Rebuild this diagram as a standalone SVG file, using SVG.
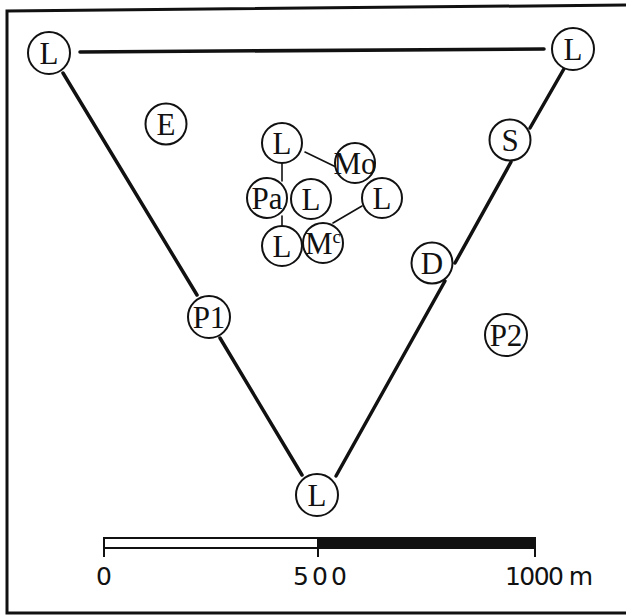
<svg xmlns="http://www.w3.org/2000/svg" width="626" height="616" viewBox="0 0 626 616">
<style>
.n circle{fill:#fff;stroke:#111;stroke-width:2}
.n text{font-family:"Liberation Serif","Times New Roman",serif;font-size:31px;fill:#111;text-anchor:middle}
.c line{stroke:#111;stroke-width:3.5;stroke-linecap:round}
.c line.t{stroke-width:1.6}
.s{font-family:"DejaVu Sans","Liberation Sans",sans-serif;font-size:25px;fill:#111}
</style>
<rect width="626" height="616" fill="#fff"/>
<path d="M626 5 L7 11 L7 613 L626 613" fill="none" stroke="#111" stroke-width="3"/>
<g id="connectors" class="c">
<line x1="80" y1="52" x2="544" y2="49"/>
<line x1="63" y1="73" x2="197" y2="295"/>
<line x1="220" y1="338" x2="302" y2="475"/>
<line x1="565" y1="67" x2="530" y2="128"/>
<line x1="511" y1="162" x2="455" y2="263"/>
<line x1="445" y1="281" x2="336" y2="476"/>
<line class="t" x1="305" y1="152" x2="336" y2="167"/>
<line class="t" x1="282" y1="163" x2="282" y2="181"/>
<line class="t" x1="282" y1="216" x2="282" y2="231"/>
<line class="t" x1="362" y1="206" x2="333" y2="223"/>
</g>
<g id="n-L1" class="n"><circle cx="49" cy="53" r="21"/><text x="49" y="64">L</text></g>
<g id="n-L2" class="n"><circle cx="573" cy="49" r="21"/><text x="573" y="60">L</text></g>
<g id="n-E" class="n"><circle cx="166" cy="124" r="20.5"/><text x="166" y="135">E</text></g>
<g id="n-S" class="n"><circle cx="510" cy="140" r="20.5"/><text x="510" y="151">S</text></g>
<g id="n-D" class="n"><circle cx="432" cy="263" r="20.5"/><text x="432" y="274">D</text></g>
<g id="n-P1" class="n"><circle cx="209" cy="317" r="21"/><text x="209" y="328">P1</text></g>
<g id="n-P2" class="n"><circle cx="506" cy="335" r="21"/><text x="506" y="346">P2</text></g>
<g id="n-Lb" class="n"><circle cx="317" cy="495" r="21"/><text x="317" y="506">L</text></g>
<g id="n-Lc1" class="n"><circle cx="282" cy="143" r="20"/><text x="282" y="154">L</text></g>
<g id="n-Mo" class="n"><circle cx="355" cy="163" r="20"/><text x="355" y="174">Mo</text></g>
<g id="n-Lc2" class="n"><circle cx="382" cy="198" r="20"/><text x="382" y="209">L</text></g>
<g id="n-Pa" class="n"><circle cx="267" cy="198" r="20"/><text x="267" y="209">Pa</text></g>
<g id="n-Lc3" class="n"><circle cx="311" cy="199" r="20"/><text x="311" y="210">L</text></g>
<g id="n-Lc4" class="n"><circle cx="282" cy="246" r="20"/><text x="282" y="257">L</text></g>
<g id="n-Mc" class="n"><circle cx="323" cy="243" r="20"/><text x="323" y="254">M<tspan font-size="19" dy="-11">c</tspan></text></g>
<g id="scale">
<rect x="104" y="538" width="214" height="10" fill="#fff" stroke="#111" stroke-width="2"/>
<rect x="318" y="538" width="217" height="10" fill="#111" stroke="#111" stroke-width="2"/>
<g stroke="#111" stroke-width="2"><line x1="104" y1="538" x2="104" y2="557"/><line x1="318" y1="538" x2="318" y2="557"/><line x1="535" y1="538" x2="535" y2="557"/></g>
<text class="s" x="104" y="585" text-anchor="middle">0</text>
<text class="s" x="293" y="585" textLength="54" lengthAdjust="spacing">500</text>
<text class="s" x="505" y="585" textLength="88" lengthAdjust="spacing">1000 m</text>
</g>
</svg>
